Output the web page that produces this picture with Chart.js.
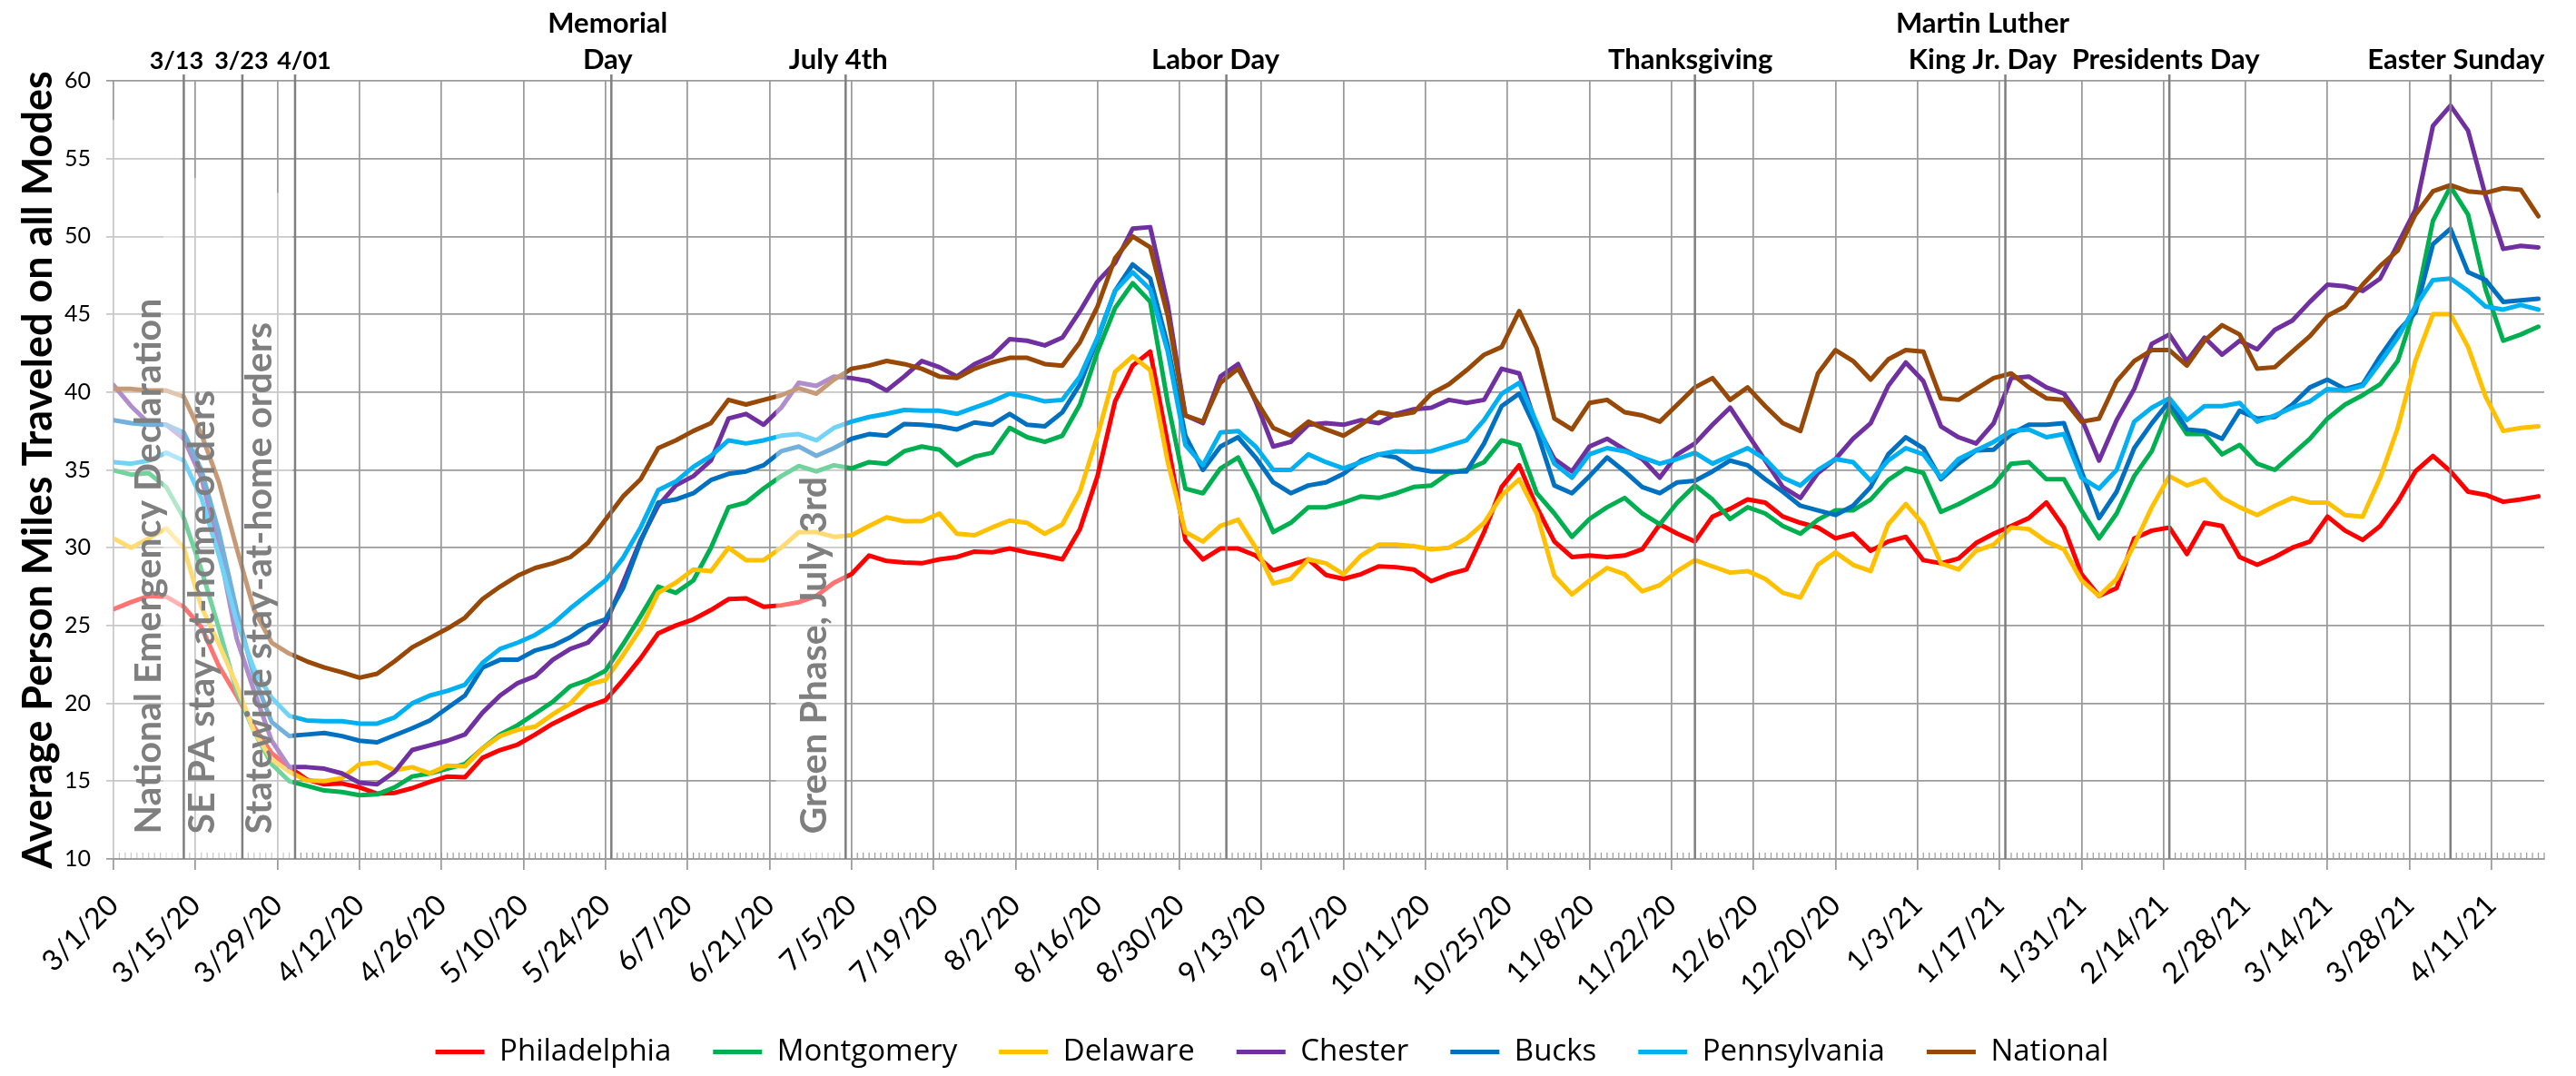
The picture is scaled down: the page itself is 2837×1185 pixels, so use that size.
<!DOCTYPE html>
<html>
<head>
<meta charset="utf-8">
<script src="https://cdn.jsdelivr.net/npm/chart.js@4.4.0/dist/chart.umd.min.js"></script>
<style>
html, body { margin: 0; padding: 0; background: #fff; }
#wrap { width: 2837px; height: 1185px; }
</style>
</head>
<body>
<div id="wrap"><canvas id="lineChart" width="2837" height="1185"></canvas></div>
<script>
// days since 3/1/20, one reading every third day (last day on the axis is 4/20/21 = day 415)
var days = [];
for (i = 0; i <= 414; i += 3) days.push(i);
var lastDay = 415;

var tickLabels = ['3/1/20','3/15/20','3/29/20','4/12/20','4/26/20','5/10/20','5/24/20','6/7/20','6/21/20',
    '7/5/20','7/19/20','8/2/20','8/16/20','8/30/20','9/13/20','9/27/20','10/11/20','10/25/20','11/8/20',
    '11/22/20','12/6/20','12/20/20','1/3/21','1/17/21','1/31/21','2/14/21','2/28/21','3/14/21','3/28/21','4/11/21'];

var philadelphia = [26.05,26.5,26.9,26.85,26.2,24.9,22.4,20.5,18.5,16.8,
    15.9,15.1,14.8,14.85,14.6,14.2,14.25,14.55,14.95,15.3,
    15.25,16.5,17.0,17.35,18.0,18.7,19.25,19.8,20.2,21.5,
    22.9,24.5,25.0,25.4,26.0,26.7,26.75,26.2,26.3,26.5,
    26.9,27.75,28.3,29.5,29.15,29.05,29.0,29.25,29.4,29.75,
    29.7,29.95,29.7,29.5,29.25,31.2,34.6,39.4,41.7,42.6,
    36.7,30.5,29.25,29.95,29.95,29.5,28.55,28.9,29.25,28.25,
    28.0,28.3,28.8,28.75,28.6,27.85,28.3,28.6,31.0,33.9,
    35.3,32.6,30.4,29.4,29.5,29.4,29.5,29.9,31.5,30.9,
    30.4,32.0,32.5,33.1,32.9,32.0,31.6,31.3,30.6,30.9,
    29.8,30.4,30.7,29.2,29.0,29.3,30.3,30.9,31.4,31.9,
    32.9,31.3,28.3,26.9,27.4,30.6,31.1,31.3,29.6,31.6,
    31.4,29.4,28.9,29.4,30.0,30.4,32.0,31.1,30.5,31.4,
    32.95,34.9,35.9,34.9,33.6,33.4,32.95,33.1,33.3];

var montgomery = [34.98,34.7,34.8,33.9,31.9,28.6,24.8,20.8,18.2,16.1,
    15.0,14.7,14.4,14.3,14.1,14.15,14.6,15.3,15.5,15.8,
    16.1,17.1,18.0,18.6,19.35,20.1,21.1,21.5,22.1,23.8,
    25.6,27.5,27.1,27.9,30.0,32.6,32.9,33.8,34.6,35.25,
    34.9,35.3,35.1,35.5,35.4,36.2,36.5,36.3,35.3,35.85,
    36.1,37.7,37.1,36.8,37.2,39.2,42.6,45.4,47.0,45.8,
    39.3,33.8,33.5,35.1,35.8,33.6,31.0,31.6,32.6,32.6,
    32.9,33.3,33.2,33.5,33.9,34.0,34.8,35.0,35.5,36.9,
    36.6,33.5,32.2,30.7,31.85,32.6,33.2,32.2,31.5,32.9,
    34.0,33.1,31.85,32.6,32.2,31.4,30.9,31.8,32.4,32.4,
    33.1,34.35,35.1,34.8,32.3,32.8,33.4,34.0,35.4,35.5,
    34.4,34.4,32.4,30.6,32.2,34.6,36.2,39.0,37.3,37.3,
    36.0,36.6,35.4,35.0,36.0,37.0,38.3,39.2,39.8,40.5,
    42.0,45.5,51.0,53.2,51.4,46.6,43.3,43.7,44.2];

var delaware = [30.6,30.0,30.6,31.25,30.0,26.2,23.8,21.2,18.2,16.4,
    15.6,15.05,15.0,15.2,16.1,16.2,15.7,15.9,15.5,16.0,
    15.95,17.1,17.9,18.3,18.5,19.3,20.0,21.2,21.5,23.1,
    24.8,27.1,27.75,28.6,28.5,30.0,29.2,29.2,30.0,31.0,
    31.0,30.7,30.8,31.4,31.95,31.7,31.7,32.2,30.9,30.8,
    31.3,31.75,31.6,30.9,31.5,33.6,37.2,41.3,42.3,41.4,
    35.5,31.0,30.4,31.4,31.8,30.0,27.7,28.0,29.25,29.0,
    28.3,29.5,30.2,30.2,30.1,29.9,30.0,30.6,31.6,33.35,
    34.4,32.2,28.2,27.0,27.9,28.7,28.3,27.2,27.6,28.5,
    29.2,28.8,28.4,28.5,28.0,27.1,26.8,28.9,29.7,28.9,
    28.5,31.5,32.8,31.5,29.0,28.6,29.8,30.2,31.3,31.2,
    30.4,29.9,27.9,26.9,28.0,30.2,32.6,34.6,34.0,34.4,
    33.2,32.6,32.1,32.7,33.2,32.9,32.9,32.1,32.0,34.5,
    37.7,42.0,45.0,45.0,42.9,39.7,37.5,37.7,37.8];

var chester = [40.45,39.1,38.0,37.9,37.0,34.5,30.0,24.2,20.8,17.6,
    15.9,15.9,15.8,15.5,14.9,14.8,15.6,17.0,17.3,17.6,
    18.0,19.4,20.5,21.3,21.75,22.8,23.5,23.9,25.1,27.75,
    30.5,32.7,34.0,34.6,35.6,38.3,38.6,37.9,39.0,40.6,
    40.4,41.0,40.9,40.7,40.1,41.0,42.0,41.6,41.0,41.8,
    42.3,43.4,43.3,43.0,43.5,45.2,47.1,48.3,50.5,50.6,
    45.6,38.5,38.0,41.0,41.8,39.4,36.5,36.8,37.9,38.0,
    37.9,38.2,38.0,38.6,38.9,39.0,39.5,39.3,39.5,41.5,
    41.2,37.8,35.7,34.9,36.5,37.0,36.3,35.7,34.5,36.0,
    36.7,37.9,39.0,37.3,35.6,33.9,33.2,34.8,35.7,37.0,
    38.0,40.4,41.9,40.7,37.8,37.1,36.7,38.0,40.9,41.0,
    40.3,39.9,38.3,35.6,38.2,40.2,43.1,43.7,42.0,43.5,
    42.4,43.3,42.75,44.0,44.6,45.8,46.9,46.8,46.5,47.3,
    49.5,51.7,57.1,58.4,56.8,52.6,49.2,49.4,49.3];

var bucks = [38.2,38.0,37.9,37.9,37.4,35.0,31.0,26.0,21.7,18.8,
    17.9,18.0,18.1,17.9,17.6,17.5,17.95,18.4,18.9,19.7,
    20.5,22.3,22.8,22.8,23.4,23.7,24.25,25.0,25.4,27.4,
    30.4,32.9,33.1,33.5,34.35,34.75,34.9,35.3,36.2,36.5,
    35.9,36.4,37.0,37.3,37.2,37.95,37.9,37.8,37.6,38.05,
    37.9,38.6,37.9,37.8,38.7,40.5,43.4,46.5,48.2,47.3,
    43.0,37.2,35.0,36.5,37.1,35.8,34.2,33.5,34.0,34.2,
    34.75,35.6,36.0,35.8,35.1,34.9,34.9,34.9,36.7,39.1,
    39.9,37.5,34.0,33.5,34.6,35.8,34.9,33.9,33.5,34.2,
    34.3,34.9,35.6,35.3,34.4,33.6,32.7,32.4,32.1,32.7,
    33.9,36.0,37.1,36.4,34.4,35.4,36.25,36.3,37.3,37.9,
    37.9,38.0,34.9,31.9,33.6,36.4,38.0,39.4,37.6,37.5,
    37.0,38.8,38.3,38.4,39.2,40.3,40.8,40.2,40.5,42.3,
    43.9,45.1,49.5,50.5,47.7,47.2,45.8,45.9,46.0];

var pennsylvania = [35.5,35.4,35.6,36.1,35.6,33.2,29.5,25.3,22.2,20.35,
    19.2,18.9,18.85,18.85,18.7,18.7,19.1,20.0,20.5,20.8,
    21.2,22.6,23.5,23.9,24.4,25.1,26.1,27.0,27.9,29.35,
    31.3,33.7,34.25,35.2,35.9,36.9,36.7,36.9,37.2,37.3,
    36.9,37.7,38.1,38.4,38.6,38.85,38.8,38.8,38.6,39.0,
    39.4,39.9,39.7,39.4,39.5,41.0,43.5,46.5,47.7,46.6,
    42.6,36.6,35.3,37.4,37.5,36.5,35.0,35.0,36.0,35.5,
    35.1,35.5,36.0,36.2,36.15,36.2,36.55,36.9,38.2,39.9,
    40.6,38.0,35.4,34.5,36.0,36.4,36.2,35.8,35.4,35.7,
    36.1,35.4,35.9,36.4,35.7,34.5,34.0,35.0,35.7,35.5,
    34.3,35.6,36.4,36.0,34.5,35.7,36.25,36.8,37.5,37.6,
    37.1,37.3,34.5,33.8,35.0,38.1,39.0,39.6,38.2,39.1,
    39.1,39.3,38.1,38.5,39.0,39.4,40.2,40.1,40.4,41.9,
    43.5,45.5,47.2,47.3,46.5,45.5,45.3,45.6,45.3];

var national = [40.2,40.2,40.1,40.1,39.7,37.3,34.2,30.0,26.0,23.9,
    23.2,22.7,22.3,22.0,21.65,21.9,22.7,23.6,24.2,24.8,
    25.5,26.7,27.5,28.2,28.7,29.0,29.4,30.3,31.8,33.3,
    34.4,36.4,36.9,37.5,38.0,39.5,39.2,39.5,39.8,40.25,
    39.9,40.8,41.5,41.7,42.0,41.8,41.5,41.0,40.9,41.5,
    41.9,42.2,42.2,41.8,41.7,43.2,45.5,48.6,50.0,49.3,
    44.9,38.5,38.1,40.6,41.5,39.5,37.7,37.2,38.1,37.6,
    37.2,37.9,38.7,38.5,38.7,39.9,40.5,41.4,42.4,42.9,
    45.2,42.8,38.3,37.6,39.3,39.5,38.7,38.5,38.1,39.2,
    40.3,40.9,39.5,40.3,39.1,38.0,37.5,41.2,42.7,42.0,
    40.8,42.1,42.7,42.6,39.6,39.5,40.2,40.9,41.2,40.3,
    39.6,39.5,38.1,38.3,40.7,42.0,42.7,42.7,41.7,43.3,
    44.3,43.7,41.5,41.6,42.6,43.6,44.9,45.5,46.9,48.1,
    49.1,51.4,52.9,53.3,52.9,52.8,53.1,53.0,51.3];

var seriesNames = ['Philadelphia','Montgomery','Delaware','Chester','Bucks','Pennsylvania','National'];
var seriesValues = [philadelphia, montgomery, delaware, chester, bucks, pennsylvania, national];
var seriesColors = ['#FF0000','#00B050','#FFC000','#7030A0','#0070C0','#00B0F0','#984807'];

// holidays / policy dates marked on the chart (day index)
var eventDays = [12, 22, 31, 85, 125, 190, 270, 323, 351, 399];
var eventLabels = [['3/13'], ['3/23'], ['4/01'], ['Memorial', 'Day'], ['July 4th'], ['Labor Day'],
    ['Thanksgiving'], ['Martin Luther', 'King Jr. Day'], ['Presidents Day'], ['Easter Sunday']];
var labelNudge = [-8, -1, 10, -4, -8, -12, -5, -25, -4, 6];

// faded note boxes: day range, top value, text centre day
var notes = [
    {from: -2.4, to: 11.6, top: 57.5, at: 6.0, text: 'National Emergency Declaration'},
    {from: 8.5, to: 21.2, top: 53.75, at: 15.1, text: 'SE PA stay-at-home orders'},
    {from: 21.2, to: 30.6, top: 52.8, at: 24.9, text: 'Statewide stay-at-home orders'},
    {from: 113.1, to: 124.8, top: 43.0, at: 119.6, text: 'Green Phase, July 3rd'}
];

var gridColor = '#9b9b9b';
var plotBottom = 946;

const extras = {
    id: 'extras',
    afterDatasetsDraw(chart) {
        const ctx = chart.ctx, area = chart.chartArea, x = chart.scales.x, y = chart.scales.y;
        ctx.save();
        // daily minor ticks inside the plot
        ctx.strokeStyle = gridColor;
        ctx.lineWidth = 1.2;
        ctx.beginPath();
        for (let d = 0; d <= lastDay; d++) {
            const px = x.getPixelForValue(d);
            ctx.moveTo(px, area.bottom - 7);
            ctx.lineTo(px, area.bottom);
        }
        ctx.stroke();
        // translucent white note boxes
        ctx.fillStyle = 'rgba(255,255,255,0.45)';
        notes.forEach(n => {
            const l = x.getPixelForValue(n.from), r = x.getPixelForValue(n.to), t = y.getPixelForValue(n.top);
            ctx.fillRect(l, t, r - l, area.bottom - 1 - t);
        });
        // event lines
        ctx.strokeStyle = '#7f7f7f';
        ctx.lineWidth = 2.5;
        eventDays.forEach(d => {
            const px = x.getPixelForValue(d);
            ctx.beginPath();
            ctx.moveTo(px, 82);
            ctx.lineTo(px, area.bottom);
            ctx.stroke();
        });
        // rotated note text
        ctx.fillStyle = '#7f7f7f';
        ctx.font = 'bold 41px Lato';
        ctx.textAlign = 'left';
        ctx.textBaseline = 'middle';
        notes.forEach(n => {
            ctx.save();
            ctx.translate(x.getPixelForValue(n.at), y.getPixelForValue(11.6));
            ctx.rotate(-Math.PI / 2);
            ctx.fillText(n.text, 0, 0);
            ctx.restore();
        });
        // event labels above the plot
        ctx.fillStyle = '#000';
        ctx.textAlign = 'center';
        ctx.textBaseline = 'alphabetic';
        eventDays.forEach((d, i) => {
            const px = x.getPixelForValue(d) + labelNudge[i];
            const lines = eventLabels[i];
            // the short date labels sit close together, so they get a smaller size
            ctx.font = /^\d/.test(lines[0]) ? 'bold 27px Lato' : 'bold 31px Lato';
            if (lines.length === 2) {
                ctx.fillText(lines[0], px, 36);
                ctx.fillText(lines[1], px, 76);
            } else {
                ctx.fillText(lines[0], px, 76);
            }
        });
        ctx.restore();
    }
};

const datasets = [];
for (i = 0; i < seriesNames.length; i++) {
    const vals = seriesValues[i];
    datasets.push({
        label: seriesNames[i],
        data: days.map((d, j) => ({x: d, y: vals[j]})),
        borderColor: seriesColors[i],
        backgroundColor: seriesColors[i],
        borderWidth: 5,
        borderCapStyle: 'round',
        borderJoinStyle: 'round',
        pointRadius: 0,
        tension: 0,
        order: seriesNames.length - i
    });
}

const ctx1 = document.getElementById('lineChart').getContext('2d');
const myChart1 = new Chart(ctx1, {
    type: 'line',
    data: { datasets: datasets },
    options: {
        responsive: false,
        animation: false,
        devicePixelRatio: 1,
        events: [],
        layout: { padding: { top: 89, right: 35, left: 0, bottom: 0 } },
        scales: {
            x: {
                type: 'linear',
                min: 0,
                max: lastDay,
                afterBuildTicks: s => { s.ticks = tickLabels.map((t, i) => ({ value: i * 14 })); },
                afterFit: s => { s.height = s.chart.height - plotBottom - (s.chart.legend ? s.chart.legend.height : 0); },
                ticks: {
                    autoSkip: false,
                    maxRotation: 45,
                    minRotation: 45,
                    padding: 20,
                    color: '#000',
                    font: { family: 'Lato', size: 32 },
                    callback: (v, i) => tickLabels[i]
                },
                grid: { color: gridColor, lineWidth: 1.75, tickLength: 12, tickColor: gridColor },
                border: { display: true, color: gridColor, width: 1.75 }
            },
            y: {
                min: 10,
                max: 60,
                afterFit: s => { s.width = 125; },
                ticks: { stepSize: 5, padding: 17, color: '#000', font: { family: 'Lato', size: 25 } },
                grid: { color: gridColor, lineWidth: 1.75, tickLength: 8, tickColor: gridColor },
                border: { display: false },
                title: {
                    display: true,
                    text: 'Average Person Miles Traveled on all Modes',
                    color: '#000',
                    font: { family: 'Lato', size: 45, weight: 'bold' },
                    padding: { top: 15, bottom: 0 }
                }
            }
        },
        plugins: {
            tooltip: { enabled: false },
            legend: {
                position: 'bottom',
                labels: {
                    usePointStyle: true,
                    pointStyle: 'line',
                    pointStyleWidth: 54,
                    padding: 46,
                    color: '#000',
                    font: { family: 'Open Sans', size: 33 },
                    sort: (a, b) => a.datasetIndex - b.datasetIndex
                }
            }
        }
    },
    plugins: [extras]
});
</script>
</body>
</html>
